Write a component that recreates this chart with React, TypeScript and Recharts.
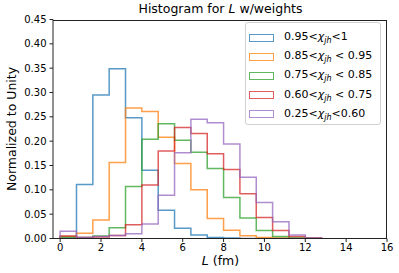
import { LineChart, Line, XAxis, YAxis } from "recharts";

// bin edges (fm) and normalized bin heights
const EDGES = [0, 0.8, 1.6, 2.4, 3.2, 4.0, 4.8, 5.6, 6.4, 7.2, 8.0, 8.8, 9.6, 10.4, 11.2, 12.0, 12.8];

const CHI_095_1 = [0.001, 0.111, 0.295, 0.349, 0.248, 0.14, 0.058, 0.021, 0.007, 0.002, 0.001, 0, 0, 0, 0, 0];
const CHI_085_095 = [0.004, 0.011, 0.038, 0.156, 0.268, 0.261, 0.208, 0.154, 0.1, 0.041, 0.017, 0.0055, 0.002, 0.001, 0, 0];
const CHI_075_085 = [0.003, 0.002, 0.005, 0.022, 0.107, 0.204, 0.236, 0.202, 0.177, 0.144, 0.084, 0.042, 0.0165, 0.004, 0.001, 0];
const CHI_060_075 = [0.005, 0.002, 0.003, 0.006, 0.028, 0.11, 0.18, 0.228, 0.216, 0.174, 0.142, 0.092, 0.043, 0.0165, 0.004, 0.001];
const CHI_025_060 = [0.015, 0.002, 0.004, 0.006, 0.01, 0.03, 0.089, 0.176, 0.245, 0.238, 0.194, 0.126, 0.074, 0.0345, 0.007, 0.001];

const SERIES = [CHI_095_1, CHI_085_095, CHI_075_085, CHI_060_075, CHI_025_060];
const COLORS = ["#1f77b4", "#ff7f0e", "#2ca02c", "#d62728", "#9467bd"];
const LEG_LOW = ["0.95<", "0.85<", "0.75<", "0.60<", "0.25<"];
const LEG_HIGH = ["<1", " < 0.95", " < 0.85", " < 0.75", "<0.60"];

const X_TICKS = [0, 2, 4, 6, 8, 10, 12, 14, 16];
const Y_TICKS = [0, 0.05, 0.1, 0.15, 0.2, 0.25, 0.3, 0.35, 0.4, 0.45];

const FONT = "'DejaVu Sans', sans-serif";

// step outline: start at (0,0), one point per bin, close at the last edge
const rows: Record<string, number>[] = [];
rows.push(Object.fromEntries([["x", EDGES[0]], ...SERIES.map((_, i) => [`s${i}`, 0])]));
for (let b = 0; b < EDGES.length - 1; b++) {
  rows.push(Object.fromEntries([["x", EDGES[b]], ...SERIES.map((s, i) => [`s${i}`, s[b]])]));
}
rows.push(Object.fromEntries([["x", EDGES[EDGES.length - 1]], ...SERIES.map((_, i) => [`s${i}`, 0])]));

const tick = { fill: "#000", fontSize: 10, fontFamily: FONT };

export default function App() {
  return (
    <div style={{ position: "absolute", left: 0, top: 0, width: 399, height: 273, background: "#fff", fontFamily: FONT }}>
      <LineChart width={399} height={273} data={rows} margin={{ top: 19.5, right: 12, bottom: 4.5, left: 0 }}>
        <XAxis
          type="number"
          dataKey="x"
          domain={[-0.35, 16]}
          ticks={X_TICKS}
          allowDataOverflow
          tick={tick}
          tickSize={3.5}
          tickMargin={2}
          height={30}
          stroke="#222"
        />
        <YAxis
          type="number"
          domain={[0, 0.45]}
          ticks={Y_TICKS}
          allowDataOverflow
          tick={tick}
          tickFormatter={(v: number) => v.toFixed(2)}
          tickSize={3.5}
          tickMargin={3}
          width={53}
          stroke="#222"
        />
        {SERIES.map((_, i) => (
          <Line
            key={i}
            type="stepAfter"
            dataKey={`s${i}`}
            stroke={COLORS[i]}
            strokeOpacity={0.75}
            strokeWidth={1.5}
            dot={false}
            activeDot={false}
            isAnimationActive={false}
          />
        ))}
      </LineChart>
      {/* top and right spines */}
      <div style={{ position: "absolute", left: 53, top: 19.5, width: 334, height: 219, borderTop: "1px solid #222", borderRight: "1px solid #222", boxSizing: "border-box", pointerEvents: "none" }} />
      <div style={{ position: "absolute", left: 0, width: 441, top: 1, textAlign: "center", fontSize: 12.5, color: "#000", whiteSpace: "nowrap" }}>
        Histogram for <i>L</i> w/weights
      </div>
      <div style={{ position: "absolute", left: 0, width: 441, top: 253, textAlign: "center", fontSize: 12.5, color: "#000", whiteSpace: "nowrap" }}>
        <i>L</i> (fm)
      </div>
      <div
        style={{
          position: "absolute",
          left: 11,
          top: 129,
          transform: "translate(-50%, -50%) rotate(-90deg)",
          fontSize: 12.5,
          color: "#000",
          whiteSpace: "nowrap",
        }}
      >
        Normalized to Unity
      </div>
      <div
        style={{
          position: "absolute",
          left: 245,
          top: 22,
          width: 136,
          height: 103,
          boxSizing: "border-box",
          border: "1px solid #d0d0d0",
          borderRadius: 3,
          background: "rgba(255,255,255,0.8)",
          paddingTop: 5,
        }}
      >
        {LEG_LOW.map((lo, i) => (
          <div key={i} style={{ display: "flex", alignItems: "center", height: 19.2 }}>
            <div style={{ marginLeft: 3, width: 25, height: 8, boxSizing: "border-box", border: `1.5px solid ${COLORS[i]}`, opacity: 0.75 }} />
            <div style={{ marginLeft: 10, fontSize: 11, color: "#000", whiteSpace: "nowrap" }}>
              {lo}
              <i>χ</i>
              <sub style={{ fontSize: 8, fontStyle: "italic" }}>jh</sub>
              {LEG_HIGH[i]}
            </div>
          </div>
        ))}
      </div>
    </div>
  );
}
